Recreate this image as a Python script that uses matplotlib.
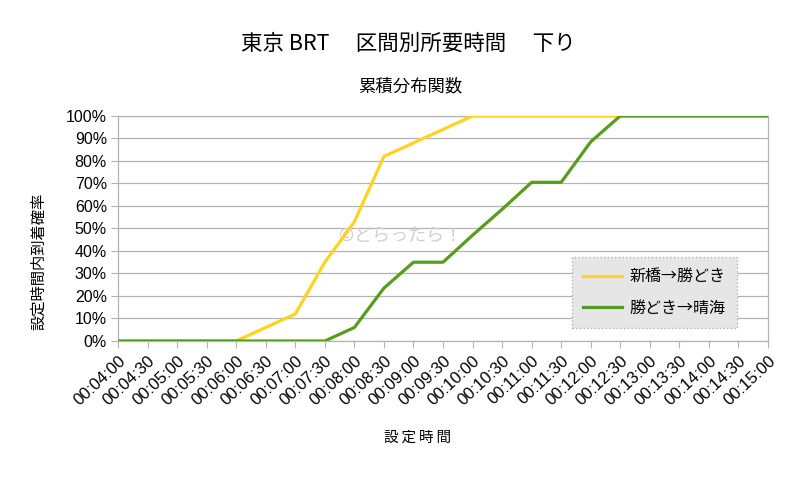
import numpy as np
import matplotlib.pyplot as plt

plt.rcParams['font.family'] = ['Noto Sans CJK JP', 'DejaVu Sans']

times = ['00:04:00', '00:04:30', '00:05:00', '00:05:30', '00:06:00', '00:06:30',
         '00:07:00', '00:07:30', '00:08:00', '00:08:30', '00:09:00', '00:09:30',
         '00:10:00', '00:10:30', '00:11:00', '00:11:30', '00:12:00', '00:12:30',
         '00:13:00', '00:13:30', '00:14:00', '00:14:30', '00:15:00']

# cumulative probability (%)
shinbashi_kachidoki = [0, 0, 0, 0, 0, 6, 12, 35, 53, 82, 88, 94,
                       100, 100, 100, 100, 100, 100, 100, 100, 100, 100, 100]
kachidoki_harumi = [0, 0, 0, 0, 0, 0, 0, 0, 6, 23.5, 35, 35,
                    47, 58.5, 70.5, 70.5, 88.5, 100, 100, 100, 100, 100, 100]

x = np.arange(len(times))
num_font = ['Liberation Sans', 'DejaVu Sans']

fig = plt.figure(figsize=(8, 4.83), dpi=100)
ax = fig.add_axes([0.1475, 0.294, 0.8125, 0.466])

ax.plot(x, shinbashi_kachidoki, color='#ffd320', lw=2.3, label='新橋→勝どき', zorder=3)
ax.plot(x, kachidoki_harumi, color='#579d1c', lw=2.3, label='勝どき→晴海', zorder=4)

ax.set_xlim(0, len(times) - 1)
ax.set_ylim(0, 100)
ax.set_yticks(np.arange(0, 101, 10))
ax.set_yticklabels([f'{v}%' for v in range(0, 101, 10)], fontsize=11.5, family=num_font)
ax.set_xticks(x)
ax.set_xticklabels(times, rotation=43, ha='right', va='top', rotation_mode='anchor',
                   fontsize=12, family=num_font)
ax.tick_params(axis='x', length=5, color='#b3b3b3', pad=4)
ax.tick_params(axis='y', length=5, color='#b3b3b3', pad=3)

ax.grid(axis='y', color='#b3b3b3', lw=0.9)
ax.set_axisbelow(True)
for s in ax.spines.values():
    s.set_color('#b3b3b3')
    s.set_linewidth(0.9)

# axis titles placed where the original has them
fig.text(418 / 800, 1 - 438 / 483, '設\u2009定\u2009時\u2009間', ha='center', va='center',
         fontsize=10.5)
fig.text(39 / 800, 1 - 261 / 483, '設定時間内到着確率', ha='center', va='center',
         rotation=90, fontsize=11)

fig.text(408 / 800, 1 - 44 / 483, '東京 BRT　 区間別所要時間　 下り', ha='center', va='center',
         fontsize=15.5)
fig.text(410 / 800, 1 - 86 / 483, '累積分布関数', ha='center', va='center', fontsize=12.5)

ax.text(0.34, 0.467, '©どらったら！', transform=ax.transAxes, fontsize=13,
        color='#d0d0d0', ha='left', va='center', zorder=2)

leg = ax.legend(loc='upper left', bbox_to_anchor=(572 / 800, 1 - 257 / 483),
                bbox_transform=fig.transFigure, borderaxespad=0, fontsize=11.5,
                fancybox=False, framealpha=1, handlelength=2.4, borderpad=0.7,
                labelspacing=0.9, handletextpad=0.5)
leg.get_frame().set_facecolor('#e6e6e6')
leg.get_frame().set_edgecolor('#b3b3b3')
leg.get_frame().set_linestyle(':')

fig.savefig('out.png', dpi=100, facecolor='white')
